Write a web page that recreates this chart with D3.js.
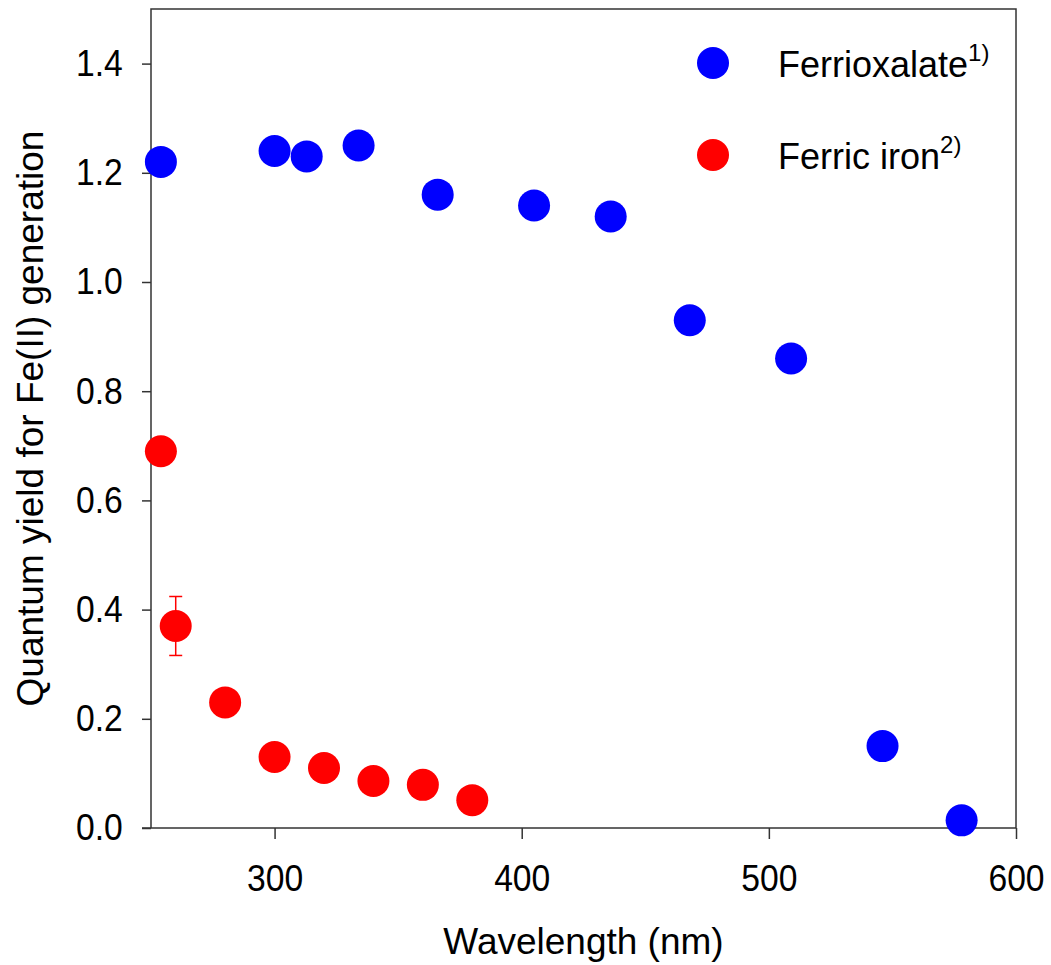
<!DOCTYPE html>
<html lang="en">
<head>
<meta charset="UTF-8">
<title>Quantum yield</title>
<script src="https://d3js.org/d3.v7.min.js"></script>
<style>
  body { margin: 0; background: #fff; }
  svg { font-family: "Liberation Sans", Arial, sans-serif; }
</style>
</head>
<body>
<svg id="chart" width="1051" height="965"></svg>
<script>
// Ferrioxalate (1)
const oxWave  = [254, 300, 313, 334, 366, 405, 436, 468, 509, 546, 578];
const oxYield = [1.22, 1.24, 1.23, 1.25, 1.16, 1.14, 1.12, 0.93, 0.86, 0.15, 0.014];
// Ferric iron (2)
const feWave  = [254, 260, 280, 300, 320, 340, 360, 380];
const feYield = [0.69, 0.37, 0.23, 0.13, 0.11, 0.086, 0.079, 0.051];
const feErr   = [null, 0.054, null, null, null, null, null, null];

const xTicks = [300, 400, 500, 600];
const yTicks = [0, 0.2, 0.4, 0.6, 0.8, 1.0, 1.2, 1.4];
const seriesNames = ["Ferrioxalate", "Ferric iron"];
const seriesSup = ["1)", "2)"];
const seriesColors = ["#0000ff", "#ff0000"];

const width = 1051, height = 965;
const margin = {top: 9, right: 35, bottom: 137, left: 151};
const axisColor = "#333";

const svg = d3.select("#chart");

const x = d3.scaleLinear().domain([250, 600]).range([margin.left, width - margin.right]);
const y = d3.scaleLinear().domain([0, 1.5]).range([height - margin.bottom, margin.top]);

// frame
svg.append("rect")
  .attr("x", margin.left).attr("y", margin.top)
  .attr("width", width - margin.left - margin.right)
  .attr("height", height - margin.top - margin.bottom)
  .attr("fill", "none").attr("stroke", axisColor).attr("stroke-width", 1.5);
// bottom line sticks out a bit on the left
svg.append("line")
  .attr("x1", margin.left - 9).attr("x2", margin.left)
  .attr("y1", y(0)).attr("y2", y(0))
  .attr("stroke", axisColor).attr("stroke-width", 1.5);

// tick labels are a bit taller than wide in the original
const tickFont = 37, squeeze = 0.91;

const xAxis = svg.append("g")
  .attr("transform", `translate(0,${y(0)})`)
  .call(d3.axisBottom(x).tickValues(xTicks).tickSize(11).tickPadding(26).tickSizeOuter(0).tickFormat(d3.format("d")));
xAxis.select(".domain").remove();
xAxis.selectAll("line").attr("stroke", axisColor).attr("stroke-width", 1.5);
xAxis.selectAll("text").attr("font-size", tickFont).attr("fill", "#000").attr("font-family", null)
  .attr("transform", `scale(${squeeze},1)`);

const yAxis = svg.append("g")
  .attr("transform", `translate(${margin.left},0)`)
  .call(d3.axisLeft(y).tickValues(yTicks).tickSize(9).tickPadding(22).tickSizeOuter(0).tickFormat(d3.format(".1f")));
yAxis.select(".domain").remove();
yAxis.selectAll("line").attr("stroke", axisColor).attr("stroke-width", 1.5);
yAxis.selectAll("text").attr("font-size", tickFont).attr("fill", "#000").attr("font-family", null)
  .attr("transform", `scale(${squeeze},1)`);

// axis titles
svg.append("text")
  .attr("x", (margin.left + width - margin.right) / 2)
  .attr("y", 954)
  .attr("text-anchor", "middle")
  .attr("font-size", 37)
  .text("Wavelength (nm)");

svg.append("text")
  .attr("transform", `translate(43,${(margin.top + height - margin.bottom) / 2}) rotate(-90)`)
  .attr("text-anchor", "middle")
  .attr("font-size", 37)
  .text("Quantum yield for Fe(II) generation");

// error bars
const errData = feWave.map((w, i) => ({w, v: feYield[i], e: feErr[i]})).filter(d => d.e != null);
const eb = svg.append("g").attr("stroke", seriesColors[1]).attr("stroke-width", 1.5);
errData.forEach(d => {
  eb.append("line").attr("x1", x(d.w)).attr("x2", x(d.w)).attr("y1", y(d.v - d.e)).attr("y2", y(d.v + d.e));
  [d.v - d.e, d.v + d.e].forEach(v => {
    eb.append("line").attr("x1", x(d.w) - 6.5).attr("x2", x(d.w) + 6.5).attr("y1", y(v)).attr("y2", y(v));
  });
});

// points
const r = 16;
svg.append("g").selectAll("circle")
  .data(oxWave.map((w, i) => [w, oxYield[i]]))
  .join("circle")
  .attr("cx", d => x(d[0])).attr("cy", d => y(d[1])).attr("r", r)
  .attr("fill", seriesColors[0]);

svg.append("g").selectAll("circle")
  .data(feWave.map((w, i) => [w, feYield[i]]))
  .join("circle")
  .attr("cx", d => x(d[0])).attr("cy", d => y(d[1])).attr("r", r)
  .attr("fill", seriesColors[1]);

// legend
const legend = svg.append("g").attr("transform", "translate(713,63)");
seriesNames.forEach((name, i) => {
  const row = legend.append("g").attr("transform", `translate(0,${i * 92})`);
  row.append("circle").attr("r", r).attr("fill", seriesColors[i]);
  const t = row.append("text").attr("x", 65).attr("y", 14).attr("font-size", 36);
  t.append("tspan").text(name);
  t.append("tspan").attr("font-size", 24).attr("dy", -16).text(seriesSup[i]);
});
</script>
</body>
</html>
